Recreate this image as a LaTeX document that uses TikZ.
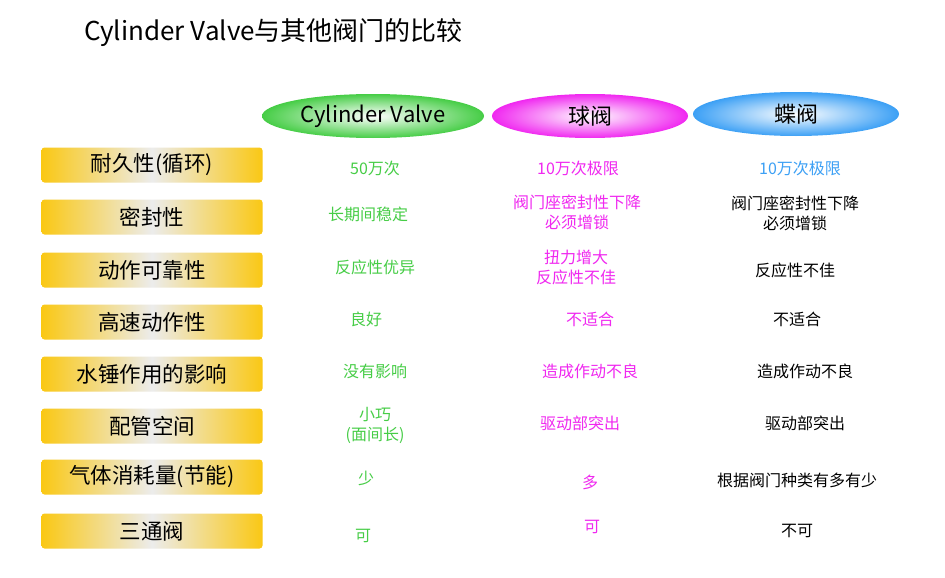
\documentclass[tikz,border=0pt]{standalone}
\usepackage{fontspec}
\setmainfont{Noto Sans CJK SC}
\usetikzlibrary{shapes.geometric}
\definecolor{cg}{RGB}{70,205,70}
\definecolor{cm}{RGB}{240,40,240}
\definecolor{cb}{RGB}{60,160,245}
\definecolor{gold}{RGB}{250,200,20}
\tikzset{
 hdr/.style={ellipse,minimum width=#1,minimum height=44pt,inner sep=0pt,inner color=white,font=\fontsize{22}{26}\selectfont},
 rowbox/.style={rounded corners=3pt,minimum width=221pt,minimum height=35pt,left color=gold,right color=gold,middle color=white!85!gray,font=\fontsize{21.5}{25}\selectfont},
 cell/.style={align=center,inner sep=1pt,font=\fontsize{16}{20}\selectfont},
 g/.style={cell,text=cg}, m/.style={cell,text=cm}, b/.style={cell,text=cb}, k/.style={cell,text=black}
}
\begin{document}
\begin{tikzpicture}[x=1pt,y=-1pt]
\useasboundingbox[fill=white] (0,0) rectangle (945,578);
\node[anchor=west,inner sep=0pt,font=\fontsize{26}{30}\selectfont] (title) at (84,33) {Cylinder Valve与其他阀门的比较};
\node[hdr=222pt,outer color=cg] (h1) at (373,116) {Cylinder Valve};
\node[hdr=196pt,outer color=cm] (h2) at (590,116) {球阀};
\node[hdr=206pt,outer color=cb] (h3) at (796,114) {蝶阀};
\foreach \n/\y/\t in {1/165/耐久性(循环),2/217/密封性,3/270/动作可靠性,4/322/高速动作性,5/374/水锤作用的影响,6/426/配管空间,7/477/气体消耗量(节能),8/531/三通阀}
  \node[rowbox] (r\n) at (152,\y) {\t};
\node[g] (c11) at (375,168) {50万次};
\node[m] (c12) at (578,168) {10万次极限};
\node[b] (c13) at (800,168) {10万次极限};
\node[g] (c21) at (368,214) {长期间稳定};
\node[m] (c22) at (577,212) {阀门座密封性下降\\必须增锁};
\node[k] (c23) at (795,213) {阀门座密封性下降\\必须增锁};
\node[g] (c31) at (375,267) {反应性优异};
\node[m] (c32) at (576,267) {扭力增大\\反应性不佳};
\node[k] (c33) at (795,270) {反应性不佳};
\node[g] (c41) at (366,319) {良好};
\node[m] (c42) at (590,319) {不适合};
\node[k] (c43) at (797,319) {不适合};
\node[g] (c51) at (375,371) {没有影响};
\node[m] (c52) at (590,371) {造成作动不良};
\node[k] (c53) at (805,371) {造成作动不良};
\node[g] (c61) at (375,425) {小巧\\(面间长)};
\node[m] (c62) at (580,423) {驱动部突出};
\node[k] (c63) at (805,423) {驱动部突出};
\node[g] (c71) at (366,478) {少};
\node[m] (c72) at (590,482) {多};
\node[k] (c73) at (797,480) {根据阀门种类有多有少};
\node[g] (c81) at (363,536) {可};
\node[m] (c82) at (592,527) {可};
\node[k] (c83) at (797,531) {不可};
\end{tikzpicture}
\end{document}
